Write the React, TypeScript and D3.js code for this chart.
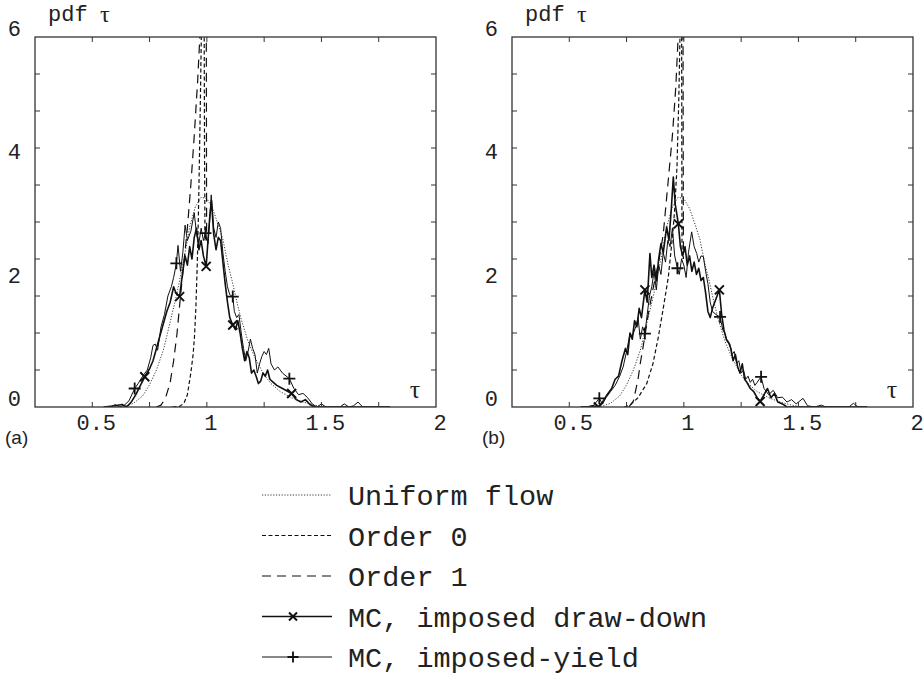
import React from 'react';
import * as d3 from 'd3';

type Pt = [number, number];

// ---- axes ----
const X_DOMAIN: [number, number] = [0.25, 2];
const Y_DOMAIN: [number, number] = [0, 6];
const X_LABEL_VALUES = [0.5, 1, 1.5, 2];
const X_LABEL_TEXT = ['0.5', '1', '1.5', '2'];
const X_MINOR = [0.5, 0.75, 1, 1.25, 1.5, 1.75];
const Y_MINOR = [0.6, 1.2, 1.8, 2.4, 3, 3.6, 4.2, 4.8, 5.4];
const Y_LABEL_VALUES = [0, 2, 4, 6];

// ---- data ----
const UNIFORM: Pt[] = [
  [0.6, 0], [0.64, 0.01], [0.68, 0.06], [0.72, 0.18], [0.75, 0.36], [0.78, 0.6], [0.81, 0.92],
  [0.84, 1.38], [0.87, 1.85], [0.9, 2.4], [0.925, 2.92], [0.95, 3.25], [0.975, 3.4], [1.0, 3.38],
  [1.025, 3.22], [1.05, 2.95], [1.07, 2.72], [1.09, 2.35], [1.11, 2.05], [1.13, 1.72], [1.15, 1.42],
  [1.18, 1.06], [1.21, 0.8], [1.25, 0.52], [1.28, 0.38], [1.32, 0.25], [1.37, 0.15], [1.42, 0.08],
  [1.47, 0.03], [1.52, 0],
];

const A_ORDER0: Pt[] = [
  [0.85, 0], [0.88, 0.01], [0.9, 0.06], [0.915, 0.2], [0.93, 0.55], [0.94, 0.85], [0.946, 1.14],
  [0.952, 1.6], [0.958, 2.3], [0.963, 3.1], [0.967, 3.9], [0.971, 4.8], [0.975, 5.8], [0.978, 6.6],
  [0.985, 7.5], [0.988, 6.5], [0.99, 4], [0.992, 2.7],
];
const A_ORDER1: Pt[] = [
  [0.78, 0], [0.8, 0.03], [0.82, 0.15], [0.84, 0.4], [0.855, 0.75], [0.87, 1.2], [0.885, 1.8],
  [0.9, 2.35], [0.915, 2.9], [0.93, 3.6], [0.945, 4.4], [0.96, 5.3], [0.972, 6.2], [0.985, 7.5],
  [0.997, 7.5], [0.998, 5], [0.999, 2.7],
];
const A_DRAWDOWN: Pt[] = [
  [0.55, 0], [0.6, 0.02], [0.63, 0.04], [0.65, 0], [0.67, 0.08], [0.69, 0.2], [0.71, 0.35],
  [0.729, 0.49], [0.75, 0.62], [0.765, 0.75], [0.78, 0.95], [0.795, 1.15], [0.81, 1.35],
  [0.825, 1.55], [0.84, 1.7], [0.855, 1.95], [0.865, 1.85], [0.881, 1.79], [0.895, 2.2],
  [0.905, 2.45], [0.915, 2.3], [0.925, 2.6], [0.935, 2.4], [0.945, 2.75], [0.955, 2.9],
  [0.965, 2.55], [0.975, 2.7], [0.985, 2.45], [0.997, 2.28], [1.005, 2.7], [1.013, 3.1],
  [1.02, 3.35], [1.03, 2.8], [1.04, 2.55], [1.05, 2.75], [1.06, 2.7], [1.07, 2.35], [1.08, 2.0],
  [1.09, 1.7], [1.1, 1.45], [1.113, 1.33], [1.125, 1.25], [1.135, 1.4], [1.145, 1.2],
  [1.155, 0.95], [1.165, 0.75], [1.175, 0.9], [1.185, 0.8], [1.195, 0.55], [1.205, 0.6],
  [1.215, 0.5], [1.225, 0.38], [1.235, 0.42], [1.245, 0.55], [1.255, 0.5], [1.265, 0.6],
  [1.275, 0.45], [1.29, 0.4], [1.305, 0.35], [1.32, 0.32], [1.34, 0.28], [1.37, 0.22],
  [1.39, 0.12], [1.41, 0.08], [1.43, 0.12], [1.45, 0.04], [1.47, 0], [1.8, 0],
];
const A_YIELD: Pt[] = [
  [0.55, 0], [0.58, 0], [0.6, 0.04], [0.62, 0], [0.64, 0.03], [0.66, 0.1], [0.685, 0.3],
  [0.7, 0.38], [0.72, 0.5], [0.74, 0.6], [0.755, 0.8], [0.765, 1.0], [0.775, 1.02], [0.785, 0.92],
  [0.8, 1.3], [0.815, 1.5], [0.83, 1.8], [0.845, 1.95], [0.855, 2.1], [0.867, 2.33], [0.874, 2.62],
  [0.885, 2.2], [0.895, 2.5], [0.905, 2.95], [0.915, 2.7], [0.93, 2.85], [0.945, 3.15],
  [0.955, 2.8], [0.965, 2.65], [0.975, 2.9], [0.985, 2.7], [0.994, 2.82], [1.005, 2.65],
  [1.012, 3.0], [1.019, 3.44], [1.03, 2.9], [1.04, 2.75], [1.05, 3.0], [1.06, 2.9], [1.07, 2.5],
  [1.08, 2.2], [1.09, 1.95], [1.1, 1.82], [1.113, 1.79], [1.12, 1.55], [1.13, 1.45], [1.14, 1.5],
  [1.15, 1.2], [1.16, 0.95], [1.17, 0.75], [1.18, 0.9], [1.19, 1.1], [1.2, 0.95], [1.21, 0.85],
  [1.22, 0.55], [1.23, 0.7], [1.24, 0.82], [1.25, 0.9], [1.26, 0.85], [1.27, 0.95], [1.28, 0.7],
  [1.295, 0.6], [1.31, 0.65], [1.33, 0.55], [1.36, 0.46], [1.38, 0.3], [1.4, 0.2], [1.42, 0.22],
  [1.44, 0.15], [1.46, 0.05], [1.48, 0], [1.5, 0.05], [1.52, 0], [1.58, 0], [1.6, 0.05],
  [1.62, 0], [1.64, 0.02], [1.66, 0.08], [1.68, 0], [1.8, 0],
];
const A_DRAWDOWN_MARKS = [0.729, 0.881, 0.997, 1.113, 1.37];
const A_YIELD_MARKS = [0.685, 0.867, 0.994, 1.113, 1.36];

const B_ORDER0: Pt[] = [
  [0.74, 0], [0.765, 0.03], [0.8, 0.15], [0.838, 0.38], [0.865, 0.7], [0.889, 1.14], [0.91, 1.6],
  [0.932, 2.1], [0.95, 2.75], [0.96, 3.2], [0.97, 3.9], [0.978, 5.0], [0.983, 6.0], [0.988, 7],
  [0.99, 7], [0.991, 4.5], [0.992, 2.4],
];
const B_ORDER1: Pt[] = [
  [0.76, 0], [0.78, 0.1], [0.8, 0.45], [0.81, 0.71], [0.83, 1.15], [0.845, 1.52], [0.87, 2.0],
  [0.89, 2.35], [0.91, 2.8], [0.93, 3.6], [0.95, 4.4], [0.965, 5.2], [0.975, 6.0], [0.985, 7],
  [0.996, 7], [0.997, 4.5], [0.998, 2.4],
];
const B_DRAWDOWN: Pt[] = [
  [0.55, 0], [0.58, 0], [0.6, 0.02], [0.627, 0], [0.645, 0.08], [0.665, 0.2], [0.685, 0.3],
  [0.7, 0.45], [0.715, 0.5], [0.73, 0.75], [0.745, 0.95], [0.755, 0.85], [0.765, 1.2],
  [0.775, 1.1], [0.785, 1.4], [0.795, 1.3], [0.805, 1.6], [0.815, 1.45], [0.83, 1.9], [0.84, 1.7],
  [0.852, 2.49], [0.86, 2.1], [0.87, 2.3], [0.88, 2.05], [0.89, 2.4], [0.9, 2.65], [0.91, 2.5],
  [0.925, 2.92], [0.935, 2.7], [0.945, 3.2], [0.954, 3.73], [0.962, 3.3], [0.976, 2.97],
  [0.985, 2.6], [0.995, 2.45], [1.005, 2.6], [1.015, 2.3], [1.025, 2.45], [1.035, 2.2],
  [1.045, 2.35], [1.055, 2.15], [1.065, 2.25], [1.075, 2.05], [1.085, 2.1], [1.095, 1.85],
  [1.105, 1.55], [1.115, 1.45], [1.125, 1.6], [1.14, 1.75], [1.155, 1.9], [1.165, 1.5],
  [1.175, 1.25], [1.185, 1.1], [1.195, 1.05], [1.205, 0.95], [1.215, 0.75], [1.225, 0.85],
  [1.235, 0.65], [1.245, 0.55], [1.255, 0.7], [1.265, 0.45], [1.275, 0.4], [1.29, 0.3],
  [1.305, 0.25], [1.32, 0.15], [1.333, 0.09], [1.35, 0.2], [1.365, 0.3], [1.38, 0.15],
  [1.395, 0.22], [1.41, 0.08], [1.43, 0.05], [1.45, 0], [1.8, 0],
];
const B_YIELD: Pt[] = [
  [0.55, 0], [0.6, 0], [0.631, 0.14], [0.645, 0.05], [0.66, 0.15], [0.68, 0.25], [0.7, 0.35],
  [0.72, 0.5], [0.735, 0.65], [0.75, 0.9], [0.765, 1.19], [0.775, 1.15], [0.79, 1.3], [0.8, 1.45],
  [0.81, 1.1], [0.82, 1.3], [0.83, 1.19], [0.84, 1.5], [0.85, 1.8], [0.86, 1.95], [0.87, 2.2],
  [0.88, 1.9], [0.89, 2.3], [0.9, 2.15], [0.91, 2.5], [0.92, 2.35], [0.93, 2.7], [0.94, 2.6],
  [0.95, 2.9], [0.96, 2.45], [0.972, 2.25], [0.98, 2.15], [0.99, 2.4], [1.0, 2.3], [1.01, 2.1],
  [1.02, 2.5], [1.034, 2.84], [1.045, 2.6], [1.056, 2.49], [1.065, 2.35], [1.075, 2.45],
  [1.085, 2.44], [1.095, 2.2], [1.105, 2.0], [1.115, 1.7], [1.125, 1.55], [1.14, 1.5],
  [1.158, 1.46], [1.17, 1.25], [1.18, 1.19], [1.19, 1.05], [1.2, 1.03], [1.21, 0.85], [1.22, 0.9],
  [1.23, 0.71], [1.24, 0.75], [1.25, 0.55], [1.26, 0.6], [1.27, 0.45], [1.28, 0.5], [1.29, 0.4],
  [1.3, 0.45], [1.31, 0.35], [1.32, 0.4], [1.337, 0.49], [1.35, 0.3], [1.37, 0.2], [1.39, 0.27],
  [1.41, 0.15], [1.43, 0.16], [1.45, 0.08], [1.47, 0.12], [1.49, 0.05], [1.52, 0.14], [1.54, 0.02],
  [1.57, 0], [1.6, 0.03], [1.62, 0], [1.72, 0], [1.74, 0.06], [1.76, 0], [1.8, 0],
];
const B_DRAWDOWN_MARKS = [0.627, 0.83, 0.976, 1.155, 1.333];
const B_YIELD_MARKS = [0.631, 0.83, 0.972, 1.158, 1.337];

const LEGEND_LABELS = [
  'Uniform flow',
  'Order 0',
  'Order 1',
  'MC, imposed draw-down',
  'MC, imposed-yield',
];

// ---- styles ----
const MONO = '"Liberation Mono", "DejaVu Sans Mono", monospace';
const SANS = '"Liberation Sans", Arial, sans-serif';
const SERIF = '"Liberation Serif", "DejaVu Serif", serif';
const INK = '#111';
const TEXT_INK = '#222';

const STYLE = {
  uniform: { stroke: '#222', strokeWidth: 0.9, dash: '1.2 1.6' },
  order0: { stroke: INK, strokeWidth: 1.2, dash: '4 2.5' },
  order1: { stroke: INK, strokeWidth: 1.2, dash: '9 6' },
  draw: { stroke: INK, strokeWidth: 1.6, dash: undefined as string | undefined },
  yld: { stroke: INK, strokeWidth: 1.0, dash: undefined as string | undefined },
};

function yAt(data: Pt[], t: number): number {
  const i = d3.bisector((d: Pt) => d[0]).left(data, t);
  if (i <= 0) return data[0][1];
  if (i >= data.length) return data[data.length - 1][1];
  const a = data[i - 1];
  const b = data[i];
  const f = (t - a[0]) / (b[0] - a[0]);
  return a[1] + f * (b[1] - a[1]);
}

function Cross({ cx, cy, s = 4.5 }: { cx: number; cy: number; s?: number }) {
  return (
    <path
      d={`M${cx - s},${cy - s}L${cx + s},${cy + s}M${cx - s},${cy + s}L${cx + s},${cy - s}`}
      stroke={INK}
      strokeWidth={2}
    />
  );
}
function Plus({ cx, cy, s = 6 }: { cx: number; cy: number; s?: number }) {
  return (
    <path d={`M${cx - s},${cy}L${cx + s},${cy}M${cx},${cy - s}L${cx},${cy + s}`} stroke={INK} strokeWidth={1.8} />
  );
}

type PanelProps = {
  id: string;
  left: number;
  tag: string;
  order0: Pt[];
  order1: Pt[];
  draw: Pt[];
  yld: Pt[];
  drawMarks: number[];
  yldMarks: number[];
};

function Panel({ id, left, tag, order0, order1, draw, yld, drawMarks, yldMarks }: PanelProps) {
  const right = left + 401;
  const top = 37;
  const bottom = 407;
  const x = d3.scaleLinear().domain(X_DOMAIN).range([left, right]);
  const y = d3.scaleLinear().domain(Y_DOMAIN).range([bottom, top]);
  const line = d3
    .line<Pt>()
    .x((d) => x(d[0]))
    .y((d) => y(d[1]));
  const tk = 5;
  const series = [
    { data: UNIFORM, s: STYLE.uniform },
    { data: order0, s: STYLE.order0 },
    { data: order1, s: STYLE.order1 },
    { data: yld, s: STYLE.yld },
    { data: draw, s: STYLE.draw },
  ];
  return (
    <g>
      <defs>
        <clipPath id={id}>
          <rect x={left} y={top} width={right - left} height={bottom - top} />
        </clipPath>
      </defs>
      <g clipPath={`url(#${id})`}>
        {series.map((sr, i) => (
          <path
            key={i}
            d={line(sr.data) || ''}
            fill="none"
            stroke={sr.s.stroke}
            strokeWidth={sr.s.strokeWidth}
            strokeDasharray={sr.s.dash}
            strokeLinejoin="round"
          />
        ))}
        {drawMarks.map((t, i) => (
          <Cross key={'x' + i} cx={x(t)} cy={y(yAt(draw, t))} />
        ))}
        {yldMarks.map((t, i) => (
          <Plus key={'p' + i} cx={x(t)} cy={y(yAt(yld, t))} />
        ))}
      </g>
      <rect x={left} y={top} width={right - left} height={bottom - top} fill="none" stroke="#333" strokeWidth={1.3} />
      {X_MINOR.map((v) => (
        <g key={'xt' + v} stroke="#333" strokeWidth={1}>
          <line x1={x(v)} x2={x(v)} y1={bottom} y2={bottom - tk} />
          <line x1={x(v)} x2={x(v)} y1={top} y2={top + tk} />
        </g>
      ))}
      {Y_MINOR.map((v) => (
        <g key={'yt' + v} stroke="#333" strokeWidth={1}>
          <line x1={left} x2={left + tk} y1={y(v)} y2={y(v)} />
          <line x1={right} x2={right - tk} y1={y(v)} y2={y(v)} />
        </g>
      ))}
      {X_LABEL_VALUES.map((v, i) => (
        <text key={'xl' + v} x={x(v) + 4} y={430} textAnchor="middle" fontFamily={MONO} fontSize={22} fill={TEXT_INK}>
          {X_LABEL_TEXT[i]}
        </text>
      ))}
      {Y_LABEL_VALUES.map((v) => (
        <text key={'yl' + v} x={left - 14} y={y(v) - 1} textAnchor="end" fontFamily={MONO} fontSize={22} fill={TEXT_INK}>
          {v}
        </text>
      ))}
      <text x={left + 13} y={21} fontFamily={MONO} fontSize={22} fill={TEXT_INK}>
        pdf
      </text>
      <text x={left + 65} y={22} fontFamily={SERIF} fontSize={24} fill={TEXT_INK}>
        τ
      </text>
      <text x={right - 21} y={398} textAnchor="middle" fontFamily={SERIF} fontSize={26} fill={TEXT_INK}>
        τ
      </text>
      <text x={left - 30} y={444} fontFamily={SANS} fontSize={19} fill={TEXT_INK}>
        {tag}
      </text>
    </g>
  );
}

function Legend() {
  const x1 = 262;
  const x2 = 332;
  const tx = 348;
  const rowY = d3.scaleLinear().domain([0, 4]).range([505, 667]);
  const styles = [STYLE.uniform, STYLE.order0, STYLE.order1, STYLE.draw, STYLE.yld];
  return (
    <g>
      {LEGEND_LABELS.map((lab, i) => {
        const by = rowY(i);
        const ly = by - 10;
        const s = styles[i];
        return (
          <g key={lab}>
            <line x1={x1} x2={x2} y1={ly} y2={ly} stroke={s.stroke} strokeWidth={s.strokeWidth} strokeDasharray={s.dash} />
            {i === 3 && <Cross cx={293} cy={ly} s={4} />}
            {i === 4 && <Plus cx={293} cy={ly} s={5.5} />}
            <text x={tx} y={by} fontFamily={MONO} fontSize={28.5} fill={TEXT_INK}>
              {lab}
            </text>
          </g>
        );
      })}
    </g>
  );
}

export default function App() {
  return (
    <svg
      width={924}
      height={680}
      style={{ position: 'absolute', left: 0, top: 0, background: '#fff' }}
      xmlns="http://www.w3.org/2000/svg"
    >
      <rect x={0} y={0} width={924} height={680} fill="#fff" />
      <Panel
        id="clipA"
        left={35}
        tag="(a)"
        order0={A_ORDER0}
        order1={A_ORDER1}
        draw={A_DRAWDOWN}
        yld={A_YIELD}
        drawMarks={A_DRAWDOWN_MARKS}
        yldMarks={A_YIELD_MARKS}
      />
      <Panel
        id="clipB"
        left={512}
        tag="(b)"
        order0={B_ORDER0}
        order1={B_ORDER1}
        draw={B_DRAWDOWN}
        yld={B_YIELD}
        drawMarks={B_DRAWDOWN_MARKS}
        yldMarks={B_YIELD_MARKS}
      />
      <Legend />
    </svg>
  );
}
